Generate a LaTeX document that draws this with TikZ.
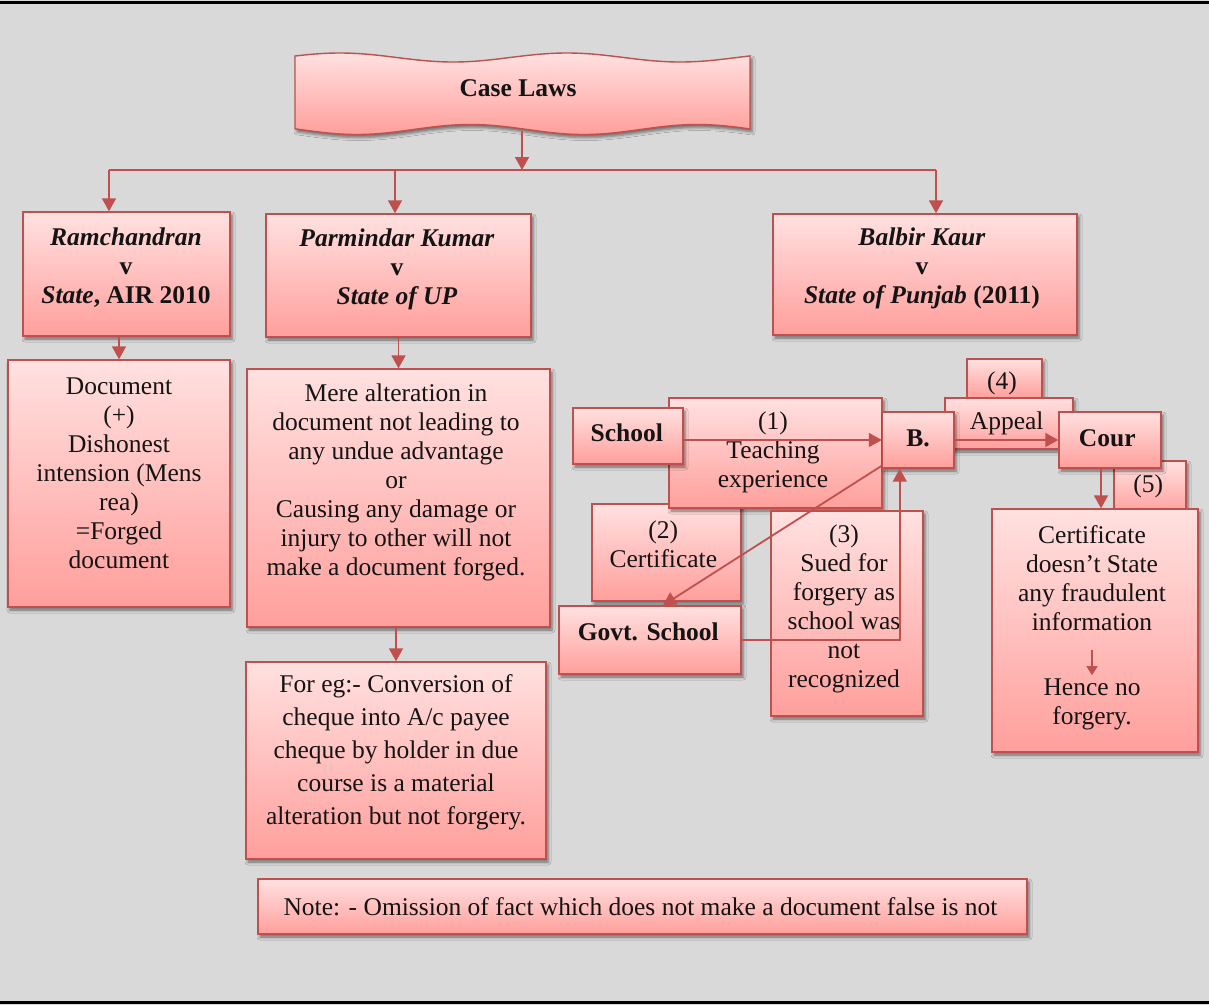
\documentclass[tikz,border=0pt]{standalone}
\usepackage{fontspec}
\setmainfont{Liberation Serif}
\usetikzlibrary{arrows.meta,fit,shadows.blur}

\definecolor{edge}{HTML}{C0504D}
\definecolor{pinktop}{HTML}{FFE1E0}
\definecolor{pinkbot}{HTML}{FF9F9C}
\definecolor{bg}{HTML}{D9D9D9}
\definecolor{ink}{HTML}{141414}

\tikzset{
  box/.style={draw=edge, line width=1.4pt, top color=pinktop, bottom color=pinkbot,
    inner sep=0pt,
    blur shadow={shadow xshift=2pt, shadow yshift=-3pt, shadow blur radius=3pt, shadow opacity=50}},
  link/.style={draw=edge, line width=1.8pt},
  arr/.style={link, -{Triangle[width=14pt,length=13pt]}},
  smallarr/.style={link, line width=1.5pt, -{Triangle[width=11pt,length=9pt]}},
  txt/.style={text=ink, align=center, inner sep=0pt, font=\fontsize{25.5}{29}\selectfont},
}

\begin{document}
\begin{tikzpicture}[x=1pt, y=-1pt]
  % canvas
  \useasboundingbox (0,0) rectangle (1209,1005);
  \fill[bg] (0,0) rectangle (1209,1005);
  \fill[black] (0,0.5) rectangle (1209,3.5);
  \fill[black] (0,1000.5) rectangle (1209,1003.5);

  % title banner (double wave, period 227)
  \path[box] plot[domain=295:750, samples=90, smooth, variable=\x] (\x, {57.5-4.5*sin(1.5859*(\x-283))})
    -- plot[domain=750:295, samples=90, smooth, variable=\x] (\x, {129.5+5*sin(1.5859*(\x-300))}) -- cycle;
  \node[txt, font=\fontsize{25.5}{29}\selectfont\bfseries] (caselaws) at (518,88) {Case Laws};
  \coordinate (wavebot) at (522,131);
  \coordinate (busM) at (522,170);
  \coordinate (busL) at (109,170);
  \coordinate (busP) at (395,170);
  \coordinate (busR) at (936,170);

  % three cases
  \node[box, fit={(23,212) (230,336)}] (ram) {};
  \node[box, fit={(266,214) (531,337)}] (par) {};
  \node[box, fit={(773,214) (1077,335)}] (bal) {};
  \node[txt] (ram-t) at (126,268) {\textbf{\textit{Ramchandran}}\\\textbf{v}\\\textbf{\textit{State}, AIR 2010}};
  \node[txt] (par-t) at (397,269.5) {\textbf{\textit{Parmindar Kumar}}\\\textbf{v}\\\textbf{\textit{State of UP}}};
  \node[txt] (bal-t) at (922,268.5) {\textbf{\textit{Balbir Kaur}}\\\textbf{v}\\\textbf{\textit{State of Punjab} (2011)}};

  % left column
  \node[box, fit={(8,360) (230,607)}] (doc) {};
  \node[txt] (doc-t) at (119,473.5) {Document\\(+)\\Dishonest\\intension (Mens\\rea)\\=Forged\\document};

  % middle column
  \node[box, fit={(247,369) (550,627)}] (mere) {};
  \node[txt] (mere-t) at (396,482) {Mere alteration in\\document not leading to\\any undue advantage\\or\\Causing any damage or\\injury to other will not\\make a document forged.};
  \node[box, fit={(246,662) (546,859)}] (foreg) {};
  \node[txt, font=\fontsize{25.5}{33}\selectfont] (foreg-t) at (396,752) {For eg:- Conversion of\\cheque into A/c payee\\cheque by holder in due\\course is a material\\alteration but not forgery.};

  % note
  \node[box, fit={(258,879) (1027,934)}] (note) {};
  \node[txt] (note-t) at (640.5,906.5) {Note: - Omission of fact which does not make a document false is not};

  % Balbir Kaur cluster
  \node[box, fit={(967,359) (1042,398)}] (four) {};
  \node[txt] (four-t) at (1002,383.3) {(4)};
  \node[box, fit={(945,398) (1073,449)}] (appeal) {};
  \node[txt] (appeal-t) at (1006.7,423.3) {Appeal};
  \node[box, fit={(592,504) (741,601)}] (cert2) {};
  \node[txt] (cert2-t) at (663.3,544) {(2)\\Certificate};
  \node[box, fit={(669,398) (882,508)}] (teach) {};
  \node[txt] (teach-t) at (773,452.5) {(1)\\Teaching\\experience};
  \node[box, fit={(771,511) (923,716)}] (sued) {};
  \node[txt] (sued-t) at (844,609) {(3)\\Sued for\\forgery as\\school was\\not\\recognized};
  \node[box, fit={(573,408) (683,464)}] (school) {};
  \node[txt, font=\fontsize{25.5}{29}\selectfont\bfseries] (school-t) at (626.7,432.7) {School};
  \node[box, fit={(882.5,412) (954,468)}] (b) {};
  \node[txt, font=\fontsize{25.5}{29}\selectfont\bfseries] (b-t) at (918,438) {B.};
  \node[box, fit={(1114,461) (1186,515)}] (five) {};
  \node[txt] (five-t) at (1148.3,486.7) {(5)};
  \node[box, fit={(1059,412) (1161,468)}] (cour) {};
  \node[txt, font=\fontsize{25.5}{29}\selectfont\bfseries] (cour-t) at (1107.3,438.3) {Cour};
  \node[box, fit={(992,509) (1198,752)}] (concl) {};
  \node[txt] (concl-t) at (1092,578.5) {Certificate\\doesn’t State\\any fraudulent\\information};
  \node[txt] (hence-t) at (1092,704) {Hence no\\forgery.};
  \node[box, fit={(559,606) (741,674)}] (gov) {};
  \node[txt, font=\fontsize{25.5}{29}\selectfont\bfseries] (gov-t) at (648.3,631.7) {Govt. School};

  % connectors: tree
  \draw[arr] (wavebot) -- (busM);
  \draw[link] (busL) -- (busR);
  \draw[arr] (busL) -- (busL |- ram.north);
  \draw[arr] (busP) -- (busP |- par.north);
  \draw[arr] (busR) -- (busR |- bal.north);
  \draw[arr] (doc.north |- ram.south) -- (doc.north);
  \draw[arr] (mere.north |- par.south) -- (mere.north);
  \draw[arr] (foreg.north |- mere.south) -- (foreg.north);

  % connectors: Balbir Kaur story
  \draw[arr] (school.east |- b.west) -- (b.west);
  \draw[arr] ([yshift=3pt]b.south west) -- ([xshift=13pt]gov.north);
  \draw[arr] (gov.east) -| ([xshift=-18.5pt]b.south);
  \draw[arr] (b.east) -- (cour.west);
  \draw[arr] ([xshift=-9pt]cour.south) -- ([xshift=-9pt]cour.south |- concl.north);
  \draw[smallarr] ([yshift=-19pt]concl-t.south) -- ([yshift=3pt]hence-t.north);
\end{tikzpicture}
\end{document}
